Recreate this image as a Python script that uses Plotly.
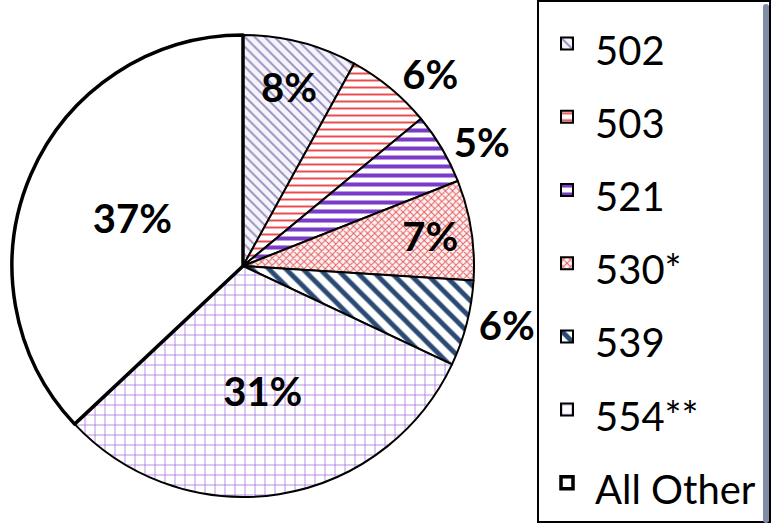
import plotly.graph_objects as go

labels = ["502", "503", "521", "530*", "539", "554**", "All Other"]
values = [8, 6, 5, 7, 6, 31, 37]
text_pos = ["inside", "outside", "outside", "inside", "outside", "inside", "inside"]
fg_colors = ["#9088bc", "#ec4a4e", "#7a3cc8", "#e45a5e", "#2a4a74", "#a070d8", "#ffffff"]
bg_colors = ["#f6f4fb", "#ffffff", "#ffffff", "#fdf2f2", "#ffffff", "#ffffff", "#ffffff"]
shapes = ["\\", "-", "-", "x", "\\", "+", ""]
sizes = [7, 7, 9, 5, 12, 10, 8]
solid = [0.25, 0.28, 0.45, 0.35, 0.4, 0.15, 0.2]
line_w = [2, 2, 2, 2, 2, 2, 3.5]

legend_labels = ["<span style='font-size:40px'>%s</span>" % l for l in labels]

fig = go.Figure(go.Pie(
    labels=legend_labels,
    values=values,
    sort=False,
    direction="clockwise",
    rotation=0,
    textinfo="percent",
    texttemplate="%{percent:.0%}",
    textposition=text_pos,
    insidetextorientation="horizontal",
    textfont=dict(family="Lato", size=40, color="black", weight="bold"),
    marker=dict(
        colors=bg_colors,
        line=dict(color="black", width=line_w),
        pattern=dict(shape=shapes, fgcolor=fg_colors, bgcolor=bg_colors,
                     size=sizes, solidity=solid, fillmode="replace", fgopacity=1),
    ),
    domain=dict(x=[12/776, 474/776], y=[1-497/523, 1-35/523]),
    hoverinfo="label+percent",
))

fig.update_layout(
    width=776, height=523,
    margin=dict(l=0, r=0, t=0, b=0),
    paper_bgcolor="white",
    font=dict(family="Lato", color="black"),
    legend=dict(
        x=537/776, xanchor="left", y=1-2/523, yanchor="top",
        bordercolor="black", borderwidth=2, bgcolor="white",
        font=dict(family="Lato", size=54, color="black"),
        itemwidth=46,
    ),
)

fig.write_html("out.html")
